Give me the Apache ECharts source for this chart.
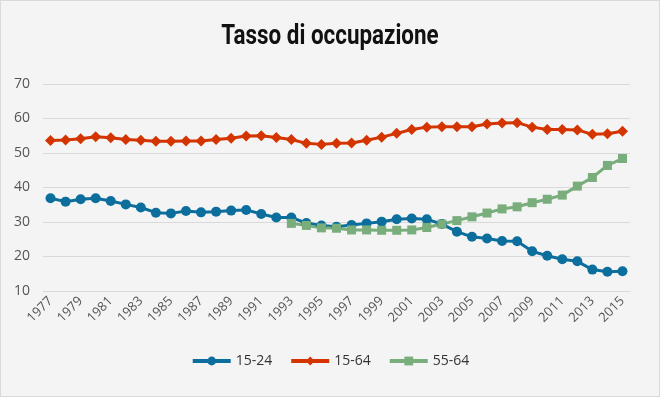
<!DOCTYPE html>
<html>
<head>
<meta charset="utf-8">
<script src="https://cdn.jsdelivr.net/npm/echarts@6/dist/echarts.min.js"></script>
<style>
html,body{margin:0;padding:0;background:#f4f4f4;}
#chart{width:658px;height:395px;border:1px solid #d9d9d9;background:#f4f4f4;}
</style>
</head>
<body>
<div id="chart"></div>
<script>
const years = ['1977','1978','1979','1980','1981','1982','1983','1984','1985','1986','1987','1988','1989','1990','1991','1992','1993','1994','1995','1996','1997','1998','1999','2000','2001','2002','2003','2004','2005','2006','2007','2008','2009','2010','2011','2012','2013','2014','2015'];
const s1524 = [36.9,35.9,36.6,36.9,36.1,35.1,34.2,32.7,32.5,33.2,32.8,33.0,33.3,33.5,32.3,31.3,31.3,29.7,29.0,28.6,29.1,29.6,30.1,30.8,31.0,30.8,29.4,27.2,25.7,25.2,24.5,24.4,21.5,20.2,19.2,18.6,16.2,15.6,15.7];
const s1564 = [53.6,53.8,54.1,54.7,54.4,53.9,53.7,53.4,53.4,53.5,53.5,53.9,54.3,54.9,55.0,54.5,53.9,52.8,52.5,52.8,52.9,53.7,54.6,55.7,56.8,57.5,57.6,57.6,57.6,58.4,58.7,58.8,57.5,56.8,56.8,56.7,55.4,55.6,56.3];
const s5564 = [null,null,null,null,null,null,null,null,null,null,null,null,null,null,null,null,29.6,29.0,28.3,28.2,27.7,27.7,27.6,27.6,27.7,28.4,29.4,30.4,31.5,32.6,33.8,34.4,35.6,36.6,37.8,40.4,42.9,46.4,48.4];
const yTicks = {min:10, max:70, interval:10};
const titleText = 'Tasso di occupazione';

const chart = echarts.init(document.getElementById('chart'));
const labelFont = 'Open Sans';
chart.setOption({
  backgroundColor:'#f4f4f4',
  animation:false,
  graphic:[{type:'text',x:329,y:36,scaleX:0.8,scaleY:1,
    style:{text:titleText,fontFamily:'Roboto',fontWeight:'bold',fontSize:28,fill:'#111',
      align:'center',verticalAlign:'middle'}}],
  grid:{left:42,right:29,top:83,bottom:105},
  legend:{bottom:23,left:'center',itemWidth:38,itemHeight:11,itemGap:17,
    lineStyle:{width:4},
    textStyle:{fontFamily:labelFont,fontSize:14,color:'#333'},
    data:['15-24','15-64','55-64']},
  xAxis:{type:'category',data:years,boundaryGap:true,
    axisLine:{show:true,lineStyle:{color:'#d9d9d9',width:1}},
    axisTick:{show:false},
    axisLabel:{interval:1,rotate:45,fontFamily:labelFont,fontSize:13,color:'#555',margin:8}},
  yAxis:{type:'value',min:yTicks.min,max:yTicks.max,interval:yTicks.interval,
    axisLine:{show:false},axisTick:{show:false},
    splitLine:{lineStyle:{color:'#d9d9d9',width:1}},
    axisLabel:{fontFamily:labelFont,fontSize:14,color:'#555',margin:13}},
  series:[
    {name:'15-24',type:'line',data:s1524,symbol:'circle',symbolSize:10,showAllSymbol:true,
      lineStyle:{width:3,color:'#0b6e9c'},itemStyle:{color:'#0b6e9c'}},
    {name:'15-64',type:'line',data:s1564,symbol:'diamond',symbolSize:11,showAllSymbol:true,
      lineStyle:{width:3,color:'#d43500'},itemStyle:{color:'#d43500'}},
    {name:'55-64',type:'line',data:s5564,symbol:'rect',symbolSize:9,showAllSymbol:true,
      lineStyle:{width:3,color:'#79ad7b'},itemStyle:{color:'#79ad7b'}}
  ]
});
</script>
</body>
</html>
